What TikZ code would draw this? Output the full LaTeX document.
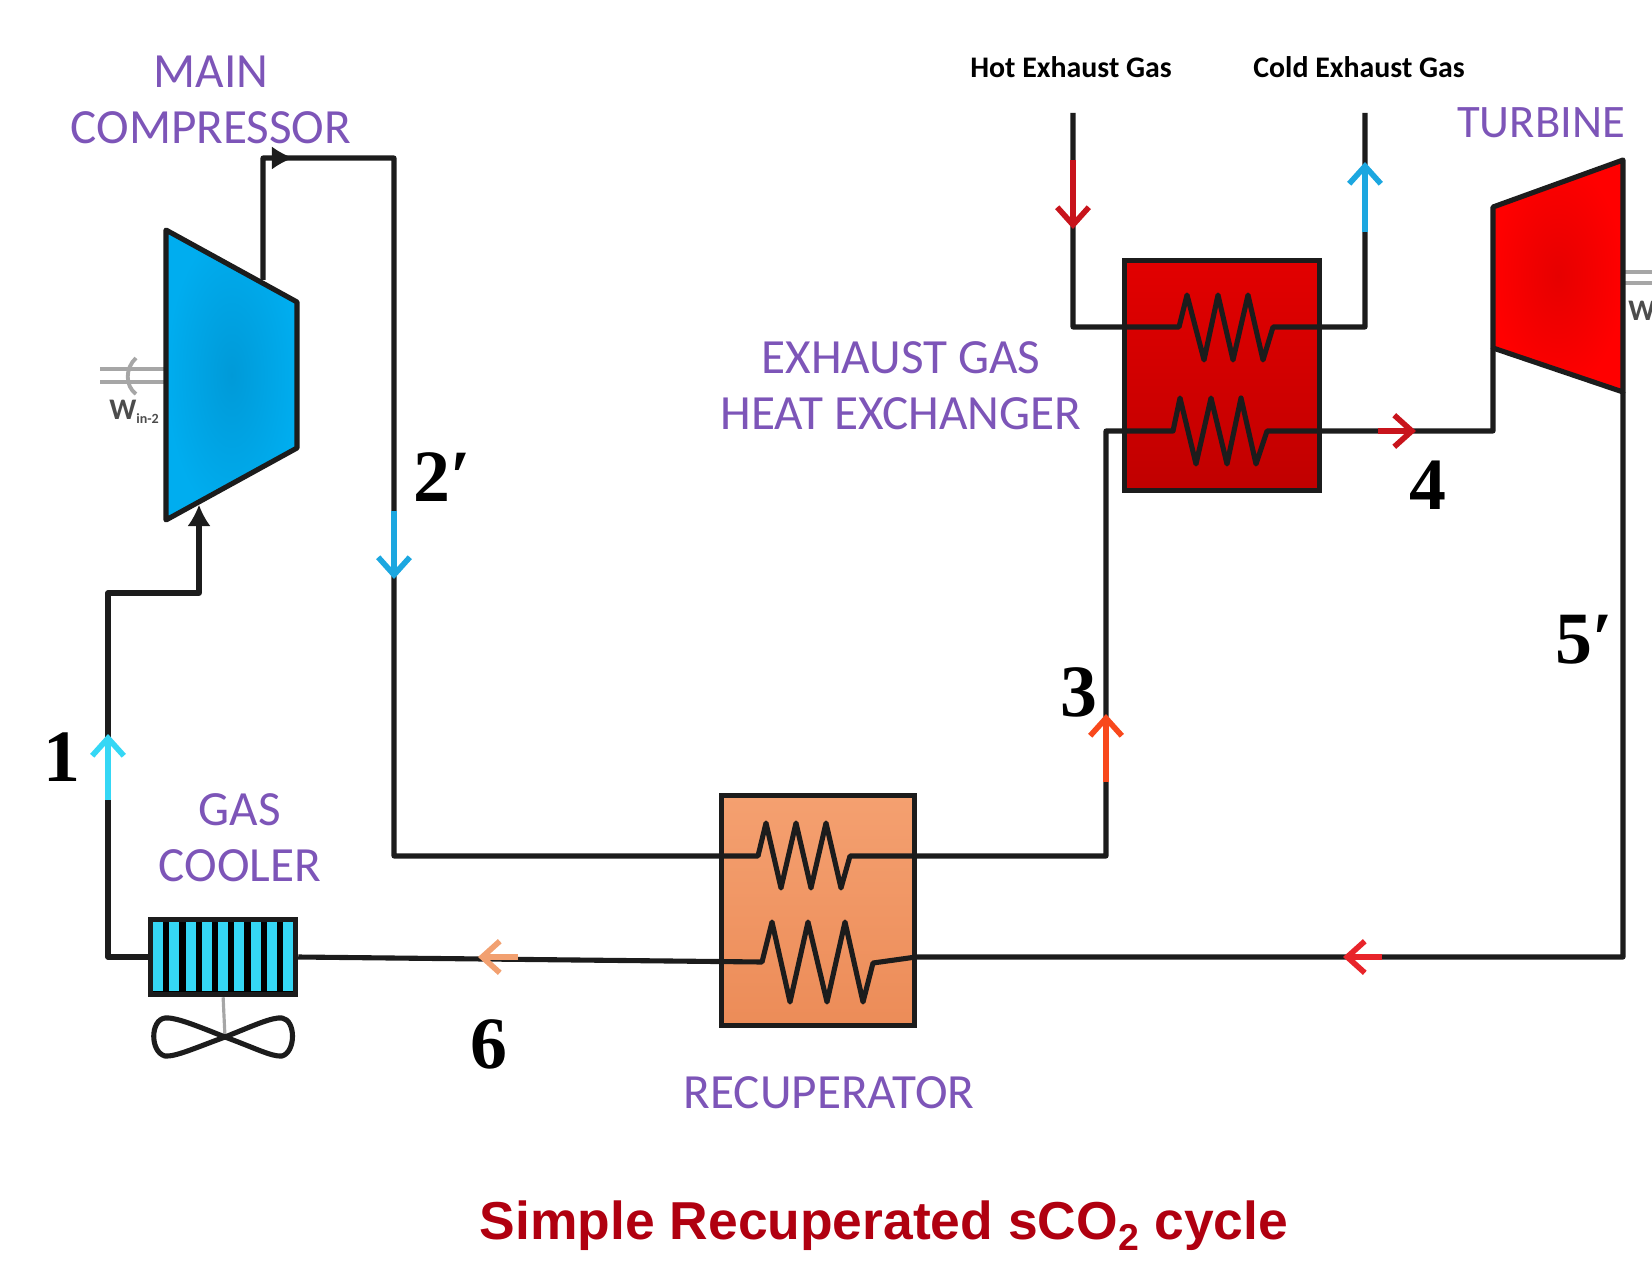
\documentclass[tikz,border=0pt]{standalone}
\usepackage{fontspec}
\setmainfont{Carlito}
\newfontfamily\numfont{Liberation Serif}
\newfontfamily\titlefont{Liberation Sans}
\usetikzlibrary{arrows.meta}
\begin{document}
\begin{tikzpicture}[x=0.02cm,y=-0.02cm,
  pipe/.style={draw=pipec, line width=2.9pt, line join=round},
  flow/.style={line width=3.8pt, -{Straight Barb[length=10pt,width=18pt,line width=3.2pt]}},
  tag/.style={text=tagc, font=\fontsize{28}{32}\selectfont, align=center, inner sep=0pt},
  stream/.style={text=black, font=\bfseries\fontsize{17}{18}\selectfont, inner sep=0pt},
  num/.style={text=black, font=\numfont\bfseries\fontsize{42}{46}\selectfont, inner sep=0pt},
  hx/.style={draw=pipec, line width=3pt, inner sep=0pt, anchor=north west},
  shaft/.style={draw=gray!70, line width=1.8pt},
  wlabel/.style={text=gray!60!black, font=\bfseries\fontsize{17}{18}\selectfont, inner sep=0pt}]

% colours
\definecolor{pipec}{HTML}{1c1c1c}
\definecolor{tagc}{HTML}{7d55b8}
\definecolor{c1}{HTML}{35d7f5}
\definecolor{c2}{HTML}{1ca7e0}
\definecolor{c3}{HTML}{f8481c}
\definecolor{c4}{HTML}{c8141c}
\definecolor{c5}{HTML}{e8242a}
\definecolor{c6}{HTML}{f2a070}

\useasboundingbox (0,0) rectangle (1652,1270);

%% compressor and turbine
\coordinate (compA) at (166,230);
\coordinate (compB) at (297,302);
\coordinate (compC) at (297,448);
\coordinate (compD) at (166,520);
\coordinate (turbA) at (1493,207);
\coordinate (turbB) at (1623,160);
\coordinate (turbC) at (1623,392);
\coordinate (turbD) at (1493,348);

%% shafts go under the machines
\draw[shaft] (100,369) -- (166,369);
\draw[shaft] (100,382) -- (166,382);
\draw[shaft,line width=2.2pt] (136,358) .. controls (125,368) and (125,386) .. (136,394);
\draw[shaft] (1623,272) -- (1652,272);
\draw[shaft] (1623,283) -- (1652,283);
\node[wlabel] (wcomp) at (134,412) {W\raisebox{-2pt}{\fontsize{8}{9}\selectfont in-2}};
\node[wlabel, anchor=west] (wturb) at (1628,311) {W};

\draw[pipe, inner color={rgb,255:red,0;green,154;blue,216}, outer color={rgb,255:red,0;green,173;blue,239}] (compA) -- (compB) -- (compC) -- (compD) -- cycle;
\draw[pipe, inner color={rgb,255:red,230;green,0;blue,0}, outer color={rgb,255:red,255;green,0;blue,0}] (turbA) -- (turbB) -- (turbC) -- (turbD) -- cycle;

%% boxes
\node[hx, top color={rgb,255:red,226;green,0;blue,0}, bottom color={rgb,255:red,192;green,0;blue,0}, minimum width=3.9cm, minimum height=4.6cm] (exhx) at (1122,258) {};
\node[hx, top color={rgb,255:red,244;green,160;blue,112}, bottom color={rgb,255:red,236;green,140;blue,88}, minimum width=3.86cm, minimum height=4.6cm] (recup) at (719,793) {};
\node[hx, fill=black, minimum width=2.9cm, minimum height=1.5cm] (cooler) at (148,917) {};
\foreach \i in {0,...,8}
  \fill[c1] ({153+16.25*\i},922) rectangle ({163+16.25*\i},991);

%% fan
\coordinate (fanhub) at (225,1037);
\draw[shaft] (cooler.south) -- (fanhub);
\draw[pipe] (fanhub) .. controls (195,1025) and (175,1017) .. (165,1018) .. controls (150,1020) and (150,1052) .. (165,1056) .. controls (175,1057) and (195,1048) .. (fanhub);
\draw[pipe] (fanhub) .. controls (255,1025) and (272,1017) .. (282,1018) .. controls (296,1020) and (296,1052) .. (282,1056) .. controls (272,1057) and (255,1048) .. (fanhub);

%% main loop
\coordinate (compout) at (263,280);
\coordinate (outup) at (263,158);
\coordinate (outright) at (394,158);
\coordinate (recin) at (394,856);
\coordinate (riser) at (1106,856);
\coordinate (hxin) at (1106,431);
\coordinate (turbin) at (1493,431);
\coordinate (turbout) at (1623,392);
\coordinate (turbdown) at (1623,957);
\coordinate (coolleft) at (108,957);
\coordinate (coolup) at (108,593);
\coordinate (coolright) at (199,593);
\coordinate (compin) at (199,520);
\coordinate (gasin) at (1073,113);
\coordinate (gasinb) at (1073,327);
\coordinate (gasout) at (1365,113);
\coordinate (gasoutb) at (1365,327);

\draw[pipe] (compout) -- (outup) -- (outright) -- (recin) -- (758,856)
  -- (766,823) -- (781,888) -- (796,823) -- (811,888) -- (826,823) -- (841,888) -- (850,856)
  -- (riser) -- (hxin) -- (1173,431)
  -- (1180,398) -- (1196,464) -- (1211,398) -- (1227,464) -- (1241,398) -- (1256,464) -- (1267,431)
  -- (turbin) -- (turbD);
\draw[pipe] (turbout) -- (turbdown) -- (916,957) -- (873,963)
  -- (863,1002) -- (845,922) -- (827,1002) -- (808,922) -- (790,1002) -- (772,922) -- (762,962)
  -- (cooler.east |- 0,957);
\draw[pipe] (cooler.west |- 0,957) -- (coolleft) -- (coolup) -- (coolright) -- (compin);
\draw[pipe] (gasin) -- (gasinb) -- (1179,327)
  -- (1187,295) -- (1204,360) -- (1218,295) -- (1233,360) -- (1248,295) -- (1263,360) -- (1273,327)
  -- (gasoutb) -- (gasout);

%% black tips on the compressor lines
\coordinate (tipa) at (272,158);
\coordinate (tipb) at (293,158);
\coordinate (tipc) at (199,526);
\coordinate (tipd) at (199,505);
\draw[pipe, -{Latex[length=12pt,width=13pt]}, line width=1pt] (tipa) -- (tipb);
\draw[pipe, -{Latex[length=12pt,width=13pt]}, line width=1pt] (tipc) -- (tipd);

%% coloured flow arrows
\coordinate (f1a) at (108,800);
\coordinate (f1b) at (108,734);
\coordinate (f2a) at (394,511);
\coordinate (f2b) at (394,579);
\coordinate (f3a) at (1106,782);
\coordinate (f3b) at (1106,714);
\coordinate (f4a) at (1378,431);
\coordinate (f4b) at (1416,431);
\coordinate (f5a) at (1382,957);
\coordinate (f5b) at (1343,957);
\coordinate (f6a) at (518,957);
\coordinate (f6b) at (478,957);
\coordinate (f7a) at (1073,160);
\coordinate (f7b) at (1073,229);
\coordinate (f8a) at (1365,232);
\coordinate (f8b) at (1365,162);
\draw[flow,c1] (f1a) -- (f1b);
\draw[flow,c2] (f2a) -- (f2b);
\draw[flow,c3] (f3a) -- (f3b);
\draw[flow,c4] (f4a) -- (f4b);
\draw[flow,c5] (f5a) -- (f5b);
\draw[flow,c6] (f6a) -- (f6b);
\draw[flow,c4] (f7a) -- (f7b);
\draw[flow,c2] (f8a) -- (f8b);

%% labels
\node[tag] (lcomp) at (211,100) {MAIN\\COMPRESSOR};
\node[tag, font=\fontsize{26.5}{32}\selectfont] (lturb) at (1541,123) {TURBINE};
\node[tag] (lhx) at (901,386) {EXHAUST GAS\\HEAT EXCHANGER};
\node[tag] (lcool) at (240,838) {GAS\\COOLER};
\node[tag] (lrec) at (829,1093) {RECUPERATOR};
\node[stream] (lhot) at (1071,67) {Hot Exhaust Gas};
\node[stream] (lcold) at (1359,67) {Cold Exhaust Gas};
\node[num] (n1) at (62,757) {1};
\node[num] (n2) at (442,477) {2′};
\node[num] (n3) at (1079,692) {3};
\node[num] (n4) at (1428,485) {4};
\node[num] (n5) at (1584,640) {5′};
\node[num] (n6) at (489,1044) {6};
\node[text={rgb,255:red,176;green,0;blue,16}, font=\titlefont\bfseries\fontsize{30.4}{34}\selectfont, inner sep=0pt] (title) at (884,1226) {Simple Recuperated sCO\textsubscript{2} cycle};
\end{tikzpicture}
\end{document}
